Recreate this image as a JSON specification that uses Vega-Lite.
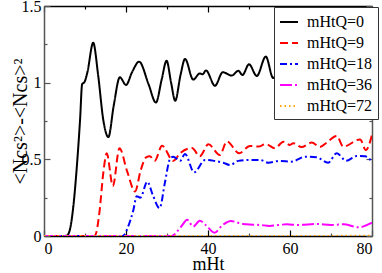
{
 "$schema": "https://vega.github.io/schema/vega-lite/v6.json",
 "width": 328, "height": 230,
 "autosize": "none",
 "padding": {"left": 44, "top": 6, "right": 10, "bottom": 37},
 "config": {
  "font": "serif",
  "view": {"stroke": null},
  "text": {"font": "serif"},
  "legend": {"labelFont": "serif", "titleFont": "serif"},
  "axis": {"grid": false, "labelFont": "serif", "titleFont": "serif", "labelFontSize": 16, "titleFontSize": 18, "titleFontWeight": "normal", "labelColor": "#000", "titleColor": "#000", "domainColor": "#555", "tickColor": "#555", "domainWidth": 1.5, "tickWidth": 1.2}
 },
 "data": {"values": [
  {"t":0,"v":0,"s":"mHtQ=0"},{"t":5,"v":0,"s":"mHtQ=0"},{"t":5.6,"v":0.003,"s":"mHtQ=0"},{"t":6.3,"v":0.04,"s":"mHtQ=0"},{"t":7.1,"v":0.18,"s":"mHtQ=0"},{"t":8,"v":0.45,"s":"mHtQ=0"},{"t":8.8,"v":0.76,"s":"mHtQ=0"},{"t":9.3,"v":0.99,"s":"mHtQ=0"},{"t":9.9,"v":1.005,"s":"mHtQ=0"},{"t":10.6,"v":1.07,"s":"mHtQ=0"},{"t":12,"v":1.26,"s":"mHtQ=0"},{"t":13.2,"v":1.05,"s":"mHtQ=0"},{"t":14.5,"v":0.75,"s":"mHtQ=0"},{"t":15.7,"v":0.645,"s":"mHtQ=0"},{"t":17,"v":0.85,"s":"mHtQ=0"},{"t":18.5,"v":1.035,"s":"mHtQ=0"},{"t":20,"v":0.985,"s":"mHtQ=0"},{"t":21.5,"v":1.07,"s":"mHtQ=0"},{"t":23.2,"v":1.137,"s":"mHtQ=0"},{"t":25.5,"v":0.99,"s":"mHtQ=0"},{"t":27.3,"v":0.87,"s":"mHtQ=0"},{"t":28.7,"v":1.02,"s":"mHtQ=0"},{"t":29.9,"v":1.143,"s":"mHtQ=0"},{"t":31,"v":1.0,"s":"mHtQ=0"},{"t":32,"v":0.882,"s":"mHtQ=0"},{"t":33.3,"v":1.05,"s":"mHtQ=0"},{"t":34.4,"v":1.155,"s":"mHtQ=0"},{"t":36.4,"v":1.02,"s":"mHtQ=0"},{"t":38,"v":1.06,"s":"mHtQ=0"},{"t":38.7,"v":1.055,"s":"mHtQ=0"},{"t":39.5,"v":1.08,"s":"mHtQ=0"},{"t":41.7,"v":0.98,"s":"mHtQ=0"},{"t":43.6,"v":1.068,"s":"mHtQ=0"},{"t":45.8,"v":1.046,"s":"mHtQ=0"},{"t":47.4,"v":1.078,"s":"mHtQ=0"},{"t":48.4,"v":1.05,"s":"mHtQ=0"},{"t":50,"v":1.12,"s":"mHtQ=0"},{"t":51.9,"v":1.044,"s":"mHtQ=0"},{"t":54.1,"v":1.17,"s":"mHtQ=0"},{"t":55.9,"v":1.03,"s":"mHtQ=0"},{"t":57.5,"v":1.1,"s":"mHtQ=0"},{"t":59.5,"v":1.02,"s":"mHtQ=0"},{"t":61.5,"v":1.12,"s":"mHtQ=0"},{"t":63.5,"v":1.05,"s":"mHtQ=0"},{"t":65.5,"v":1.15,"s":"mHtQ=0"},{"t":67.5,"v":1.03,"s":"mHtQ=0"},{"t":69.5,"v":1.1,"s":"mHtQ=0"},{"t":71.5,"v":1.04,"s":"mHtQ=0"},{"t":73.5,"v":1.13,"s":"mHtQ=0"},{"t":75.5,"v":1.05,"s":"mHtQ=0"},{"t":77,"v":1.12,"s":"mHtQ=0"},{"t":78.6,"v":1.2,"s":"mHtQ=0"},{"t":80,"v":1.16,"s":"mHtQ=0"},

  {"t":0,"v":0,"s":"mHtQ=9"},{"t":12,"v":0,"s":"mHtQ=9"},{"t":12.5,"v":0.005,"s":"mHtQ=9"},{"t":13.5,"v":0.15,"s":"mHtQ=9"},{"t":14.5,"v":0.42,"s":"mHtQ=9"},{"t":15.3,"v":0.54,"s":"mHtQ=9"},{"t":16.8,"v":0.326,"s":"mHtQ=9"},{"t":18.4,"v":0.572,"s":"mHtQ=9"},{"t":20.3,"v":0.42,"s":"mHtQ=9"},{"t":22.2,"v":0.29,"s":"mHtQ=9"},{"t":23.6,"v":0.43,"s":"mHtQ=9"},{"t":24.9,"v":0.513,"s":"mHtQ=9"},{"t":25.8,"v":0.52,"s":"mHtQ=9"},{"t":27,"v":0.49,"s":"mHtQ=9"},{"t":28.8,"v":0.589,"s":"mHtQ=9"},{"t":31.5,"v":0.49,"s":"mHtQ=9"},{"t":33.2,"v":0.54,"s":"mHtQ=9"},{"t":36.1,"v":0.574,"s":"mHtQ=9"},{"t":38,"v":0.52,"s":"mHtQ=9"},{"t":40.1,"v":0.598,"s":"mHtQ=9"},{"t":42.9,"v":0.528,"s":"mHtQ=9"},{"t":44.6,"v":0.617,"s":"mHtQ=9"},{"t":47.6,"v":0.54,"s":"mHtQ=9"},{"t":50.2,"v":0.587,"s":"mHtQ=9"},{"t":52.3,"v":0.583,"s":"mHtQ=9"},{"t":54.1,"v":0.6,"s":"mHtQ=9"},{"t":56.3,"v":0.572,"s":"mHtQ=9"},{"t":58.4,"v":0.615,"s":"mHtQ=9"},{"t":60,"v":0.594,"s":"mHtQ=9"},{"t":60.8,"v":0.605,"s":"mHtQ=9"},{"t":62.8,"v":0.58,"s":"mHtQ=9"},{"t":65.3,"v":0.609,"s":"mHtQ=9"},{"t":67.3,"v":0.58,"s":"mHtQ=9"},{"t":69,"v":0.61,"s":"mHtQ=9"},{"t":71.4,"v":0.652,"s":"mHtQ=9"},{"t":73,"v":0.583,"s":"mHtQ=9"},{"t":77.1,"v":0.63,"s":"mHtQ=9"},{"t":78.5,"v":0.56,"s":"mHtQ=9"},{"t":80,"v":0.66,"s":"mHtQ=9"},

  {"t":0,"v":0,"s":"mHtQ=18"},{"t":19,"v":0,"s":"mHtQ=18"},{"t":19.5,"v":0.005,"s":"mHtQ=18"},{"t":20.5,"v":0.06,"s":"mHtQ=18"},{"t":21.8,"v":0.17,"s":"mHtQ=18"},{"t":22.6,"v":0.26,"s":"mHtQ=18"},{"t":23.5,"v":0.25,"s":"mHtQ=18"},{"t":25.2,"v":0.354,"s":"mHtQ=18"},{"t":26.5,"v":0.27,"s":"mHtQ=18"},{"t":28.2,"v":0.182,"s":"mHtQ=18"},{"t":29.5,"v":0.35,"s":"mHtQ=18"},{"t":30.7,"v":0.5,"s":"mHtQ=18"},{"t":31.5,"v":0.517,"s":"mHtQ=18"},{"t":33.2,"v":0.49,"s":"mHtQ=18"},{"t":34.4,"v":0.535,"s":"mHtQ=18"},{"t":36.6,"v":0.415,"s":"mHtQ=18"},{"t":39.3,"v":0.496,"s":"mHtQ=18"},{"t":41.5,"v":0.49,"s":"mHtQ=18"},{"t":43.7,"v":0.478,"s":"mHtQ=18"},{"t":45.4,"v":0.463,"s":"mHtQ=18"},{"t":47.4,"v":0.49,"s":"mHtQ=18"},{"t":50.2,"v":0.496,"s":"mHtQ=18"},{"t":52.7,"v":0.496,"s":"mHtQ=18"},{"t":54.7,"v":0.478,"s":"mHtQ=18"},{"t":57.5,"v":0.49,"s":"mHtQ=18"},{"t":60.4,"v":0.485,"s":"mHtQ=18"},{"t":63.7,"v":0.517,"s":"mHtQ=18"},{"t":66.5,"v":0.513,"s":"mHtQ=18"},{"t":69.3,"v":0.478,"s":"mHtQ=18"},{"t":71.4,"v":0.54,"s":"mHtQ=18"},{"t":73.7,"v":0.49,"s":"mHtQ=18"},{"t":76.3,"v":0.522,"s":"mHtQ=18"},{"t":78.3,"v":0.52,"s":"mHtQ=18"},{"t":80,"v":0.485,"s":"mHtQ=18"},

  {"t":0,"v":0,"s":"mHtQ=36"},{"t":31,"v":0,"s":"mHtQ=36"},{"t":31.5,"v":0.004,"s":"mHtQ=36"},{"t":32.5,"v":0.03,"s":"mHtQ=36"},{"t":33.7,"v":0.07,"s":"mHtQ=36"},{"t":34.9,"v":0.106,"s":"mHtQ=36"},{"t":36.4,"v":0.062,"s":"mHtQ=36"},{"t":38,"v":0.1,"s":"mHtQ=36"},{"t":39.5,"v":0.07,"s":"mHtQ=36"},{"t":41.6,"v":0.022,"s":"mHtQ=36"},{"t":43.5,"v":0.07,"s":"mHtQ=36"},{"t":45.6,"v":0.098,"s":"mHtQ=36"},{"t":47.5,"v":0.085,"s":"mHtQ=36"},{"t":49.4,"v":0.076,"s":"mHtQ=36"},{"t":52.7,"v":0.072,"s":"mHtQ=36"},{"t":55,"v":0.066,"s":"mHtQ=36"},{"t":59.2,"v":0.076,"s":"mHtQ=36"},{"t":62,"v":0.072,"s":"mHtQ=36"},{"t":66.5,"v":0.078,"s":"mHtQ=36"},{"t":70,"v":0.072,"s":"mHtQ=36"},{"t":73,"v":0.076,"s":"mHtQ=36"},{"t":76.7,"v":0.057,"s":"mHtQ=36"},{"t":80,"v":0.087,"s":"mHtQ=36"},

  {"t":0,"v":0,"s":"mHtQ=72"},{"t":20,"v":0,"s":"mHtQ=72"},{"t":40,"v":0,"s":"mHtQ=72"},{"t":60,"v":0,"s":"mHtQ=72"},{"t":80,"v":0.002,"s":"mHtQ=72"}
 ]},
 "layer": [
  {
   "mark": {"type": "line", "strokeWidth": 2, "interpolate": "monotone", "clip": true},
   "encoding": {
    "x": {"field": "t", "type": "quantitative", "scale": {"domain": [0, 80], "nice": false},
          "axis": {"orient": "bottom", "values": [0, 20, 40, 60, 80], "tickSize": -6, "labelPadding": 10, "labelFontSize": 16, "title": "mHt", "titleY": 33, "titleBaseline": "alphabetic", "domainColor": "#000", "tickColor": "#000"}},
    "y": {"field": "v", "type": "quantitative", "scale": {"domain": [0, 1.5], "nice": false},
          "axis": {"orient": "left", "values": [0, 0.5, 1, 1.5], "format": "~g", "tickSize": -6, "labelPadding": 9, "title": "<Ncs²>-<Ncs>²", "titleFontSize": 20, "titleX": -18, "titleY": 115, "titleBaseline": "alphabetic"}},
    "color": {"field": "s", "type": "nominal", "sort": ["mHtQ=0","mHtQ=9","mHtQ=18","mHtQ=36","mHtQ=72"],
              "scale": {"domain": ["mHtQ=0","mHtQ=9","mHtQ=18","mHtQ=36","mHtQ=72"], "range": ["#000000","#ff0000","#0000ff","#ff00ff","#ffa500"]},
              "legend": {"title": null, "orient": "none", "legendX": 230, "legendY": 1, "strokeColor": "#333", "fillColor": "white", "padding": 5, "symbolType": "stroke", "symbolSize": 324, "symbolStrokeWidth": 2, "labelFontSize": 16, "labelFont": "serif", "labelColor": "#000", "rowPadding": 3, "labelOffset": 8, "cornerRadius": 0}},
    "strokeDash": {"field": "s", "type": "nominal", "sort": ["mHtQ=0","mHtQ=9","mHtQ=18","mHtQ=36","mHtQ=72"],
              "scale": {"domain": ["mHtQ=0","mHtQ=9","mHtQ=18","mHtQ=36","mHtQ=72"], "range": [[1,0],[8,4],[7,3,2,3],[12,3,2,3],[1.5,3]]},
              "legend": {"title": null, "orient": "none", "legendX": 230, "legendY": 1, "strokeColor": "#333", "fillColor": "white", "padding": 5, "symbolType": "stroke", "symbolSize": 324, "symbolStrokeWidth": 2, "labelFontSize": 16, "labelFont": "serif", "labelColor": "#000", "rowPadding": 3, "labelOffset": 8, "cornerRadius": 0}}
   }
  },
  {
   "mark": {"type": "point", "opacity": 0},
   "encoding": {
    "x": {"field": "t", "type": "quantitative", "axis": {"orient": "bottom", "values": [10, 30, 50, 70], "tickSize": -3, "labels": false, "domain": false, "title": null}},
    "y": {"field": "v", "type": "quantitative", "axis": {"orient": "left", "values": [0.25, 0.75, 1.25], "tickSize": -3, "labels": false, "domain": false, "title": null}}
   }
  },
  {
   "mark": {"type": "point", "opacity": 0},
   "encoding": {
    "x": {"field": "t", "type": "quantitative", "axis": {"orient": "top", "values": [0, 20, 40, 60, 80], "tickSize": -6, "labels": false, "title": null, "domainColor": "#000", "tickColor": "#000"}},
    "y": {"field": "v", "type": "quantitative", "axis": {"orient": "right", "values": [0, 0.5, 1, 1.5], "tickSize": -6, "labels": false, "title": null}}
   }
  },
  {
   "mark": {"type": "point", "opacity": 0},
   "encoding": {
    "x": {"field": "t", "type": "quantitative", "axis": {"orient": "top", "values": [10, 30, 50, 70], "tickSize": -3, "labels": false, "domain": false, "title": null, "tickColor": "#000"}},
    "y": {"field": "v", "type": "quantitative", "axis": {"orient": "right", "values": [0.25, 0.75, 1.25], "tickSize": -3, "labels": false, "domain": false, "title": null}}
   }
  }
 ],
 "resolve": {"axis": {"x": "independent", "y": "independent"}}
}
